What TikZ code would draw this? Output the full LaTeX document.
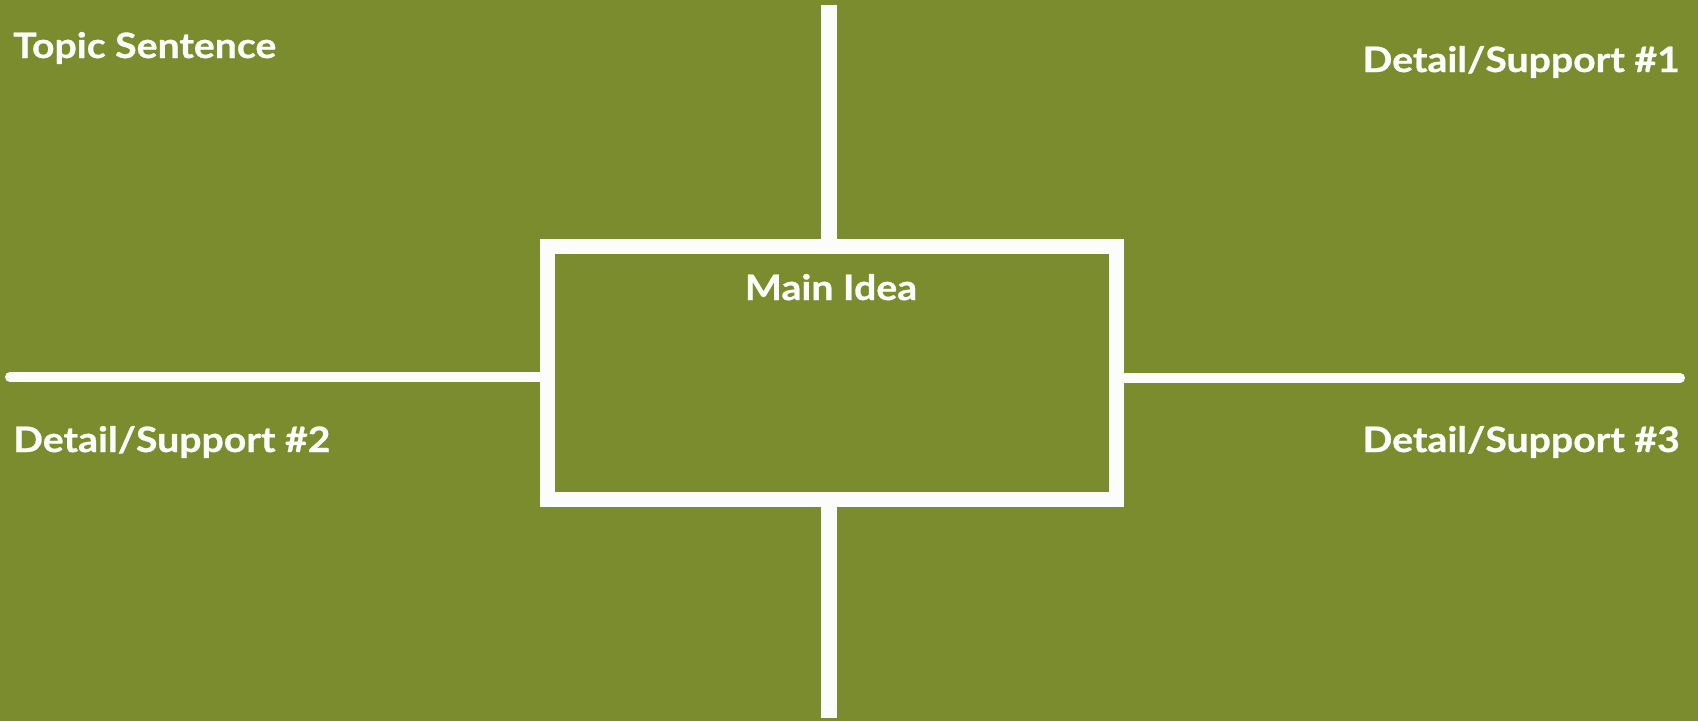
\documentclass[tikz,border=0pt]{standalone}
\usepackage{fontspec}
\newfontfamily\chalkfont{Lato Bold}[FakeStretch=1.12,FakeBold=0.8]
\definecolor{board}{RGB}{122,140,46}
\definecolor{chalk}{RGB}{252,252,250}
\begin{document}
\begin{tikzpicture}[x=1pt,y=-1pt,
  lbl/.style={text=chalk,font=\fontsize{35}{40}\chalkfont,inner sep=0pt},
  boxline/.style={draw=chalk,line width=15pt},
  vline/.style={draw=chalk,line width=16pt},
  hline/.style={draw=chalk,line width=10pt,line cap=round}]
\fill[board] (0,0) rectangle (1698,721);
\useasboundingbox (0,0) rectangle (1698,721);
\node[boxline,minimum width=569pt,minimum height=253pt,inner sep=0pt] (box) at (831.5,372.5) {};
\coordinate (t) at (829,5);
\coordinate (b) at (829,718);
\coordinate (l) at (10,377);
\coordinate (r) at (1680,378);
\draw[vline] (t) -- (t |- box.north);
\draw[vline] (b) -- (b |- box.south);
\draw[hline] (l) -- (l -| box.west);
\draw[hline] (r) -- (r -| box.east);
\node[lbl,anchor=base west] (topic) at (13,58) {Topic Sentence};
\node[lbl,anchor=base east] (d1) at (1680,72) {Detail/Support \#1};
\node[lbl,anchor=base west] (d2) at (13,452) {Detail/Support \#2};
\node[lbl,anchor=base east] (d3) at (1680,452) {Detail/Support \#3};
\node[lbl,anchor=base] (main) at (831,300) {Main Idea};
\end{tikzpicture}
\end{document}
